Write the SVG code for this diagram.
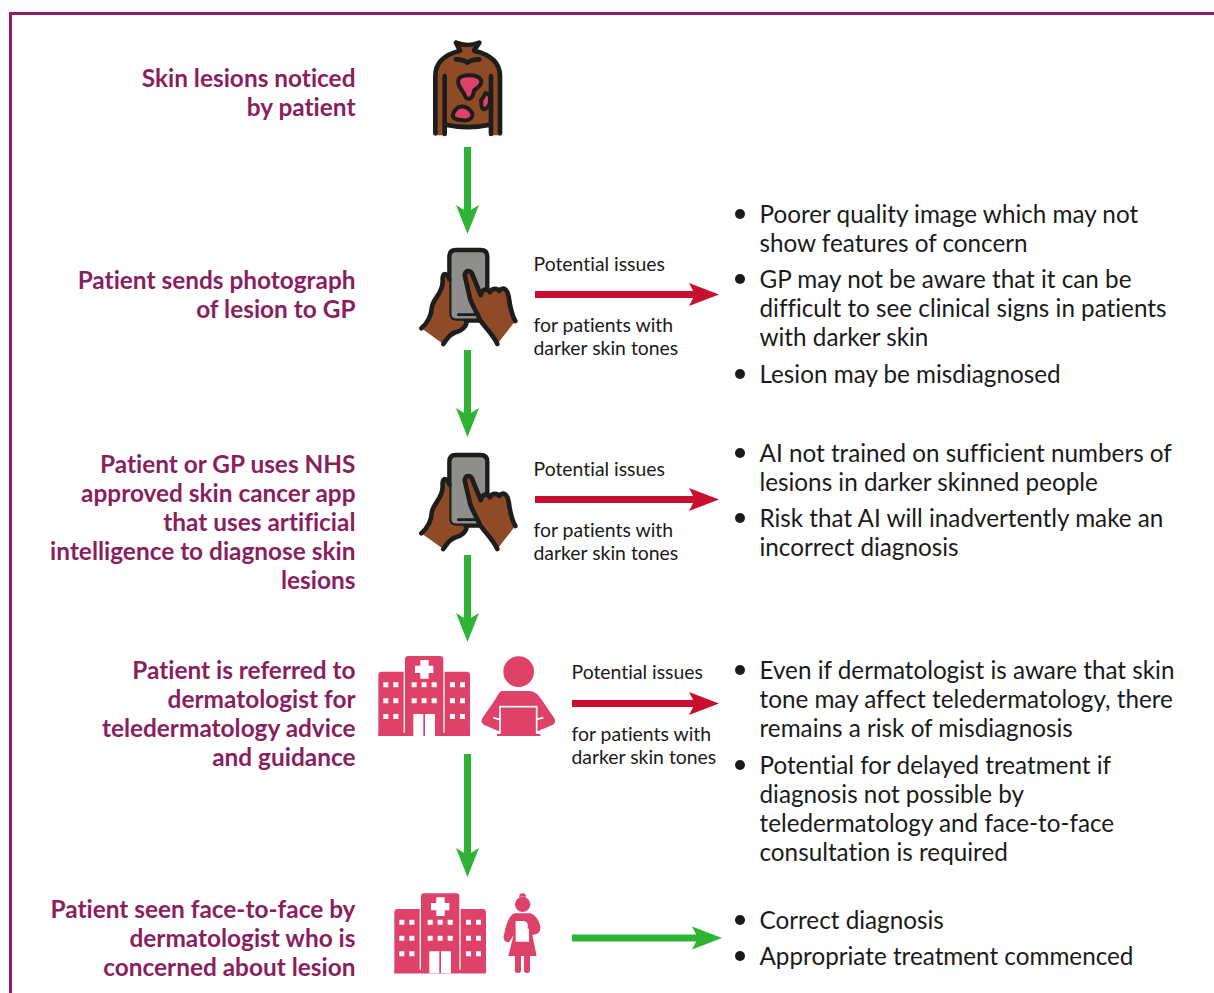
<svg xmlns="http://www.w3.org/2000/svg" width="1214" height="993" viewBox="0 0 1214 993">
<style>
text{font-family:Lato,"Liberation Sans",sans-serif;font-variant-ligatures:none}
.l{font-size:24.4px;font-weight:700;fill:#8a1f5f;text-anchor:end}
.r{font-size:24.25px;fill:#1a1a1a}
.s{font-size:19.4px;fill:#1a1a1a}
.g{stroke:#2fb335;stroke-width:7;fill:none}
.d{stroke:#c8102e;stroke-width:7;fill:none}
.gh{fill:#2fb335}.dh{fill:#c8102e}
.k{stroke:#1d1d1b;stroke-width:14;stroke-linejoin:round;stroke-linecap:round;fill:none}
.f{fill:#8f4a28}
.p{fill:#de4269}
.w{fill:#fff}
.b{fill:#1a1a1a}
.les{fill:#de4269;stroke:#1d1d1b;stroke-width:12;stroke-linejoin:round}
</style>
<defs>
<g id="hand">
<path d="M118 50Q118 30 138 30H212Q232 30 232 50V222Q232 242 212 242H138Q118 242 118 222Z" fill="#8e8e8c" stroke="#1d1d1b" stroke-width="13"/>
<path d="M145 224H205" class="k" style="stroke-width:8"/>
<path class="f" d="M118 118C108 95 96 98 98 125C98 160 70 175 66 200C64 225 52 250 34 265L100 312C115 290 125 278 150 272C165 265 172 250 168 242H140C125 242 118 235 118 220Z"/>
<path class="k" d="M34 265C52 250 64 225 66 200C70 175 98 160 98 125C96 98 108 95 118 118M100 312C115 290 125 278 150 272C165 265 172 250 168 244"/>
<path class="f" d="M164 105C168 88 184 90 188 106L212 165C218 145 232 143 240 157C246 143 262 145 268 153C280 138 292 148 296 170C300 200 305 225 316 243L262 312C250 285 225 262 210 240C200 215 186 195 180 175Z"/>
<path class="k" d="M262 312C250 285 225 262 210 240C200 215 186 195 180 175L164 105C168 88 184 90 188 106L212 165C218 145 232 143 240 157C246 143 262 145 268 153C280 138 292 148 296 170C300 200 305 225 316 243"/>
</g>
<g id="hospital" class="p">
<path d="M105 28Q105 18 115 18H210Q220 18 220 28V258H105Z"/>
<path d="M25 75Q25 65 35 65H101V258H25Z"/>
<path d="M224 65H290Q300 65 300 75V258H224Z"/>
<rect x="25" y="248" width="275" height="10"/>
<path class="w" d="M151 30H176V47H190V69H176V86H151V69H135V47H151Z"/>
<path class="w" d="M40 97h15v15h-15zM70 97h15v15h-15zM40 145h15v15h-15zM70 145h15v15h-15zM40 192h15v15h-15zM70 192h15v15h-15zM125 97h15v15h-15zM155 97h15v15h-15zM185 97h15v15h-15zM125 145h15v15h-15zM155 145h15v15h-15zM185 145h15v15h-15zM240 97h15v15h-15zM270 97h15v15h-15zM240 145h15v15h-15zM270 145h15v15h-15zM240 192h15v15h-15zM270 192h15v15h-15zM130 192h30v66h-30zM165 192h30v66h-30z"/>
</g>
</defs>
<path d="M10.500 993V13.500H1214" fill="none" stroke="#8a1f5f" stroke-width="3"/>
<g id="connectors">
<path class="g" d="M467.500 147V212M467.500 350V415M467.500 555V620M467.500 754V855"/>
<path class="gh" d="M456 205L467.500 234L479 205L467.500 212ZM456 408L467.500 437L479 408L467.500 415ZM456 613L467.500 642L479 613L467.500 620ZM456 848L467.500 877L479 848L467.500 855Z"/>
<path class="d" d="M535 294.500H696M535 499.500H696M572 703.500H696"/>
<path class="dh" d="M689 283L719 294.500L689 306L695 294.500ZM689 488L719 499.500L689 511L695 499.500ZM689 692L719 703.500L689 715L695 703.500Z"/>
<path class="g" d="M572 938H698"/>
<path class="gh" d="M692 926.500L722 938L692 949.500L698 938Z"/>
</g>
<g id="n1">
<text class="l"><tspan x="355.500" y="87">Skin lesions noticed</tspan><tspan x="355.500" y="116">by patient</tspan></text>
<g transform="translate(410 30) scale(.3333)">
<path class="f" d="M140 36Q172 50 206 36L196 60C230 70 270 90 270 135V316H240V278Q170 298 105 278V316H75V135C75 90 115 70 150 60Z"/>
<path class="k" d="M138 38Q172 52 208 38L192 62C235 72 270 92 270 138V310M150 62C110 72 76 92 76 138V310M138 38L150 62M138 88Q160 88 172 98Q185 88 208 88M104 138V312M243 138V312M112 285Q172 298 236 285"/>
<path class="les" d="M145 150C148 132 203 130 213 150C220 168 197 174 192 182C188 212 170 210 165 198C160 182 140 168 145 150Z"/>
<path class="les" d="M226 190C246 186 246 232 222 238C210 234 216 216 213 212C218 205 222 198 226 190Z"/>
<path class="les" d="M130 250C142 222 170 224 186 248C192 268 172 274 152 270C137 270 124 262 130 250Z"/>
</g>
</g>
<g id="n2">
<text class="l"><tspan x="355.500" y="288.500">Patient sends photograph</tspan><tspan x="355.500" y="317.500">of lesion to GP</tspan></text>
<use href="#hand" transform="translate(410 240) scale(.3333)"/>
<text class="s"><tspan x="533.500" y="271">Potential issues</tspan><tspan x="533.500" y="332">for patients with</tspan><tspan x="533.500" y="355">darker skin tones</tspan></text>
<circle cx="740" cy="214" r="5" class="b"/><circle cx="740" cy="279" r="5" class="b"/><circle cx="740" cy="374" r="5" class="b"/>
<text class="r"><tspan x="759.500" y="222.500">Poorer quality image which may not</tspan><tspan x="759.500" y="251.500">show features of concern</tspan><tspan x="759.500" y="287.500">GP may not be aware that it can be</tspan><tspan x="759.500" y="316.500">difficult to see clinical signs in patients</tspan><tspan x="759.500" y="345.500">with darker skin</tspan><tspan x="759.500" y="382.500">Lesion may be misdiagnosed</tspan></text>
</g>
<g id="n3">
<text class="l"><tspan x="355.500" y="472.500">Patient or GP uses NHS</tspan><tspan x="355.500" y="501.500">approved skin cancer app</tspan><tspan x="355.500" y="530.500">that uses artificial</tspan><tspan x="355.500" y="559.500">intelligence to diagnose skin</tspan><tspan x="355.500" y="588.500">lesions</tspan></text>
<use href="#hand" transform="translate(410 445) scale(.3333)"/>
<text class="s"><tspan x="533.500" y="476">Potential issues</tspan><tspan x="533.500" y="537">for patients with</tspan><tspan x="533.500" y="560">darker skin tones</tspan></text>
<circle cx="740" cy="453" r="5" class="b"/><circle cx="740" cy="518" r="5" class="b"/>
<text class="r"><tspan x="759.500" y="461.500">AI not trained on sufficient numbers of</tspan><tspan x="759.500" y="490.500">lesions in darker skinned people</tspan><tspan x="759.500" y="526.500">Risk that AI will inadvertently make an</tspan><tspan x="759.500" y="555.500">incorrect diagnosis</tspan></text>
</g>
<g id="n4">
<text class="l"><tspan x="355.500" y="678.500">Patient is referred to</tspan><tspan x="355.500" y="707.500">dermatologist for</tspan><tspan x="355.500" y="736.500">teledermatology advice</tspan><tspan x="355.500" y="765.500">and guidance</tspan></text>
<use href="#hospital" transform="translate(370 650) scale(.3333)"/>
<g transform="translate(370 650) scale(.3333)">
<circle class="p" cx="446" cy="65" r="46"/>
<path class="p" d="M395 123H480Q500 125 512 145L553 205Q560 218 545 226L505 243H385L345 226Q330 218 337 205L378 145Q385 128 395 123Z"/>
<path d="M370 203L388 208M520 203L500 208" stroke="#fff" stroke-width="5" fill="none"/>
<rect x="390" y="170" width="110" height="85" class="p" stroke="#fff" stroke-width="5"/>
<rect x="381" y="252" width="130" height="6" class="p"/>
</g>
<text class="s"><tspan x="571.500" y="679">Potential issues</tspan><tspan x="571.500" y="741">for patients with</tspan><tspan x="571.500" y="764">darker skin tones</tspan></text>
<circle cx="740" cy="670" r="5" class="b"/><circle cx="740" cy="765" r="5" class="b"/>
<text class="r"><tspan x="759.500" y="678.500">Even if dermatologist is aware that skin</tspan><tspan x="759.500" y="707.500">tone may affect teledermatology, there</tspan><tspan x="759.500" y="736.500">remains a risk of misdiagnosis</tspan><tspan x="759.500" y="773.500">Potential for delayed treatment if</tspan><tspan x="759.500" y="802.500">diagnosis not possible by</tspan><tspan x="759.500" y="831.500">teledermatology and face-to-face</tspan><tspan x="759.500" y="860.500">consultation is required</tspan></text>
</g>
<g id="n5">
<text class="l"><tspan x="355.500" y="918">Patient seen face-to-face by</tspan><tspan x="355.500" y="947">dermatologist who is</tspan><tspan x="355.500" y="976">concerned about lesion</tspan></text>
<use href="#hospital" transform="translate(386 887.300) scale(.3333)"/>
<g transform="translate(385 885) scale(.3333)">
<circle class="p" cx="413" cy="35" r="10"/>
<path d="M392 42Q413 30 434 42" stroke="#fff" stroke-width="3" fill="none"/>
<circle class="p" cx="413" cy="58" r="23"/>
<path class="p" d="M388 85H438Q460 95 466 125Q468 148 442 150L455 213H370L386 150L372 172Q355 172 356 155Q366 95 388 85Z"/>
<rect class="p" x="390" y="205" width="18" height="59" rx="8"/>
<rect class="p" x="417" y="205" width="18" height="59" rx="8"/>
<path class="w" d="M392 108H420L432 120V170H392Z"/>
<path class="p" d="M428 117L447 114V131L428 131Z"/>
</g>
<circle cx="740" cy="920" r="5" class="b"/><circle cx="740" cy="956" r="5" class="b"/>
<text class="r"><tspan x="759.500" y="928.500">Correct diagnosis</tspan><tspan x="759.500" y="964.500">Appropriate treatment commenced</tspan></text>
</g>
</svg>
